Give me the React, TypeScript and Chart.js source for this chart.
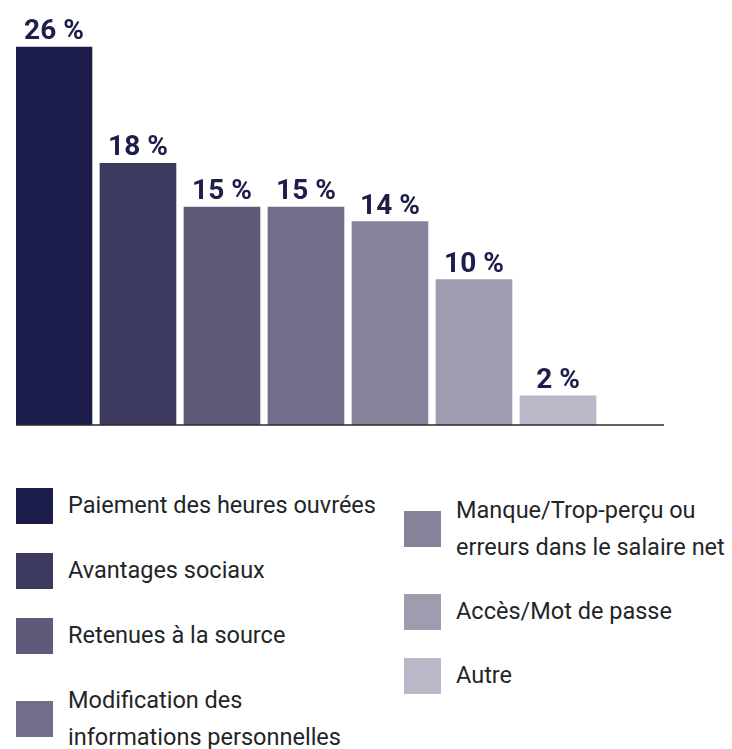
import React, { useEffect, useRef } from "react";
import { Chart, registerables } from "chart.js";

Chart.register(...registerables);

const categories = [
  "Paiement des heures ouvrées",
  "Avantages sociaux",
  "Retenues à la source",
  "Modification des informations personnelles",
  "Manque/Trop-perçu ou erreurs dans le salaire net",
  "Accès/Mot de passe",
  "Autre",
];
const legendLines = [
  ["Paiement des heures ouvrées"],
  ["Avantages sociaux"],
  ["Retenues à la source"],
  ["Modification des", "informations personnelles"],
  ["Manque/Trop-perçu ou", "erreurs dans le salaire net"],
  ["Accès/Mot de passe"],
  ["Autre"],
];
const values = [26, 18, 15, 15, 14, 10, 2];
const valueLabels = ["26 %", "18 %", "15 %", "15 %", "14 %", "10 %", "2 %"];
const colors = ["#1c1c4a", "#3d3a60", "#5f5a7a", "#726d8b", "#87829a", "#9f9cb0", "#b9b7c8"];

const LABEL_FONT = 'Roboto, "DejaVu Sans Condensed", sans-serif';
const TEXT_FONT = 'Roboto, "DejaVu Sans Condensed", sans-serif';

const valueLabelPlugin = {
  id: "valueLabels",
  afterDatasetsDraw(chart: any) {
    const ctx = chart.ctx;
    const meta = chart.getDatasetMeta(0);
    ctx.save();
    ctx.fillStyle = "#1e1e4a";
    ctx.font = `bold 28px ${LABEL_FONT}`;
    ctx.textAlign = "center";
    ctx.textBaseline = "alphabetic";
    meta.data.forEach((bar: any, i: number) => {
      ctx.fillText(valueLabels[i], bar.x, bar.y - 8);
    });
    ctx.restore();
  },
};

const baselinePlugin = {
  id: "baseline",
  afterDatasetsDraw(chart: any) {
    const { ctx, chartArea } = chart;
    ctx.save();
    ctx.strokeStyle = "#2a2a2a";
    ctx.lineWidth = 1.5;
    ctx.beginPath();
    ctx.moveTo(chartArea.left, chartArea.bottom);
    ctx.lineTo(chartArea.right, chartArea.bottom);
    ctx.stroke();
    ctx.restore();
  },
};

function ChartCanvas() {
  const ref = useRef<HTMLCanvasElement | null>(null);
  useEffect(() => {
    if (!ref.current) return;
    const chart = new Chart(ref.current, {
      type: "bar",
      data: {
        labels: categories,
        datasets: [
          {
            data: values.map((v, i) => ({ x: i, y: v })),
            backgroundColor: colors,
            borderWidth: 0,
            barThickness: 76,
          },
        ],
      },
      options: {
        responsive: false,
        animation: false,
        layout: { padding: { left: 16, right: 68, top: 18, bottom: 15 } },
        plugins: { legend: { display: false }, tooltip: { enabled: false } },
        scales: {
          x: { type: "linear", display: false, offset: false, min: -0.452, max: 7.262 },
          y: { display: false, min: 0, max: 28 },
        },
      },
      plugins: [valueLabelPlugin, baselinePlugin],
    });
    return () => chart.destroy();
  }, []);
  return <canvas ref={ref} width={732} height={440} style={{ display: "block" }} />;
}

function LegendItem({ idx }: { idx: number }) {
  return (
    <div style={{ display: "flex", alignItems: "center", minHeight: 36 }}>
      <div style={{ width: 37, height: 36, background: colors[idx], flex: "none" }} />
      <div
        style={{
          marginLeft: 15,
          fontFamily: TEXT_FONT,
          fontSize: 23.5,
          lineHeight: "37px",
          color: "#1f2628",
        }}
      >
        {legendLines[idx].map((l, j) => (
          <div key={j} style={{ whiteSpace: "nowrap" }}>{l}</div>
        ))}
      </div>
    </div>
  );
}

export default function App() {
  return (
    <div style={{ position: "absolute", left: 0, top: 0, width: 732, height: 749, background: "#fff", overflow: "hidden" }}>
      <ChartCanvas />
      <div style={{ position: "absolute", left: 16, top: 487, display: "flex", flexDirection: "column", gap: 28 }}>
        {[0, 1, 2, 3].map((i) => <LegendItem key={i} idx={i} />)}
      </div>
      <div style={{ position: "absolute", left: 404, top: 492, display: "flex", flexDirection: "column", gap: 27 }}>
        {[4, 5, 6].map((i) => <LegendItem key={i} idx={i} />)}
      </div>
    </div>
  );
}
